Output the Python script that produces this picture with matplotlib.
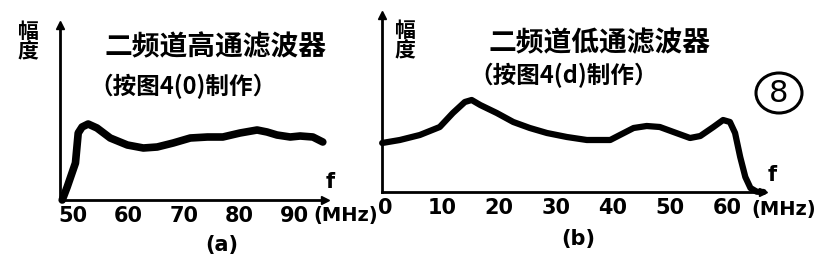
import matplotlib
matplotlib.use('Agg')
import matplotlib.pyplot as plt
from matplotlib.patches import Ellipse

W, H = 835, 260
CJK = ['Noto Sans CJK SC', 'DejaVu Sans']

# high-pass response (panel a), frequency in MHz, amplitude in arbitrary units
hp_freq = [48.0, 48.9, 50.4, 50.9, 51.6, 52.7, 54.3, 56.7, 59.8, 62.7, 65.2, 68.1,
           71.2, 74.3, 77.1, 80.2, 83.3, 85.1, 86.9, 89.3, 91.1, 93.4, 95.2]
hp_amp = [0, 13, 37, 67, 73, 76, 72, 62, 55, 52, 53, 57,
          62, 63, 63, 67, 70, 68, 65, 63, 64, 63, 58]
hp_ticks = [50, 60, 70, 80, 90]

# low-pass response (panel b)
lp_freq = [-0.5, 2.6, 6.1, 9.6, 11.9, 14.0, 15.2, 16.7, 19.6, 22.5, 25.4, 28.4,
           31.9, 35.4, 39.5, 41.2, 43.6, 45.9, 48.2, 50.6, 53.5, 55.3, 57.6, 59.3,
           60.5, 61.4, 62.3, 63.2, 64.1, 65.2, 66.4]
lp_amp = [49, 52, 57, 65, 79, 90, 92, 87, 79, 70, 64, 59,
          55, 52, 52, 57, 64, 66, 65, 60, 54, 56, 65, 72,
          70, 59, 35, 15, 4, 0.3, 0]
lp_ticks = [0, 10, 20, 30, 40, 50, 60]

fig = plt.figure(figsize=(W / 100, H / 100), dpi=100)
fig.patch.set_facecolor('white')


def px_axes(x0, x1, ytop, ybot):
    return fig.add_axes([x0 / W, (H - ybot) / H, (x1 - x0) / W, (ybot - ytop) / H])


def setup(ax, xlim, ylim, ticks):
    ax.set_xlim(*xlim)
    ax.set_ylim(*ylim)
    for s in ['top', 'right']:
        ax.spines[s].set_visible(False)
    for s in ['left', 'bottom']:
        ax.spines[s].set_linewidth(2.0)
    ax.set_yticks([])
    ax.set_xticks(ticks)
    ax.set_xticklabels([str(t) for t in ticks], fontsize=15, fontweight='bold',
                       family='DejaVu Sans')
    ax.tick_params(axis='x', length=0, pad=4)
    ax.patch.set_alpha(0)
    ax.plot([0], [1], marker='^', color='black', ms=6, transform=ax.transAxes, clip_on=False)
    ax.plot([1], [0], marker='>', color='black', ms=6, transform=ax.transAxes, clip_on=False)


axa = px_axes(60, 325, 25, 200)
setup(axa, (47.6, 95.6), (0, 175), hp_ticks)
axa.plot(hp_freq, hp_amp, color='black', lw=5.5, solid_capstyle='round',
         solid_joinstyle='round', clip_on=False)

axb = px_axes(382, 763, 15, 192)
setup(axb, (-0.53, 66.3), (0, 177), lp_ticks)
axb.plot(lp_freq, lp_amp, color='black', lw=4.5, solid_capstyle='round',
         solid_joinstyle='round', clip_on=False)

# overlay for text, pixel coordinates
ov = fig.add_axes([0, 0, 1, 1], zorder=-1)
ov.set_xlim(0, W)
ov.set_ylim(H, 0)
ov.axis('off')

def t(x, y, s, size, **kw):
    kw.setdefault('family', CJK)
    ov.text(x, y, s, fontsize=size, ha='center', va='center', **kw)

t(28, 42, '幅\n度', 15, fontweight='bold', linespacing=0.95)
t(405, 41, '幅\n度', 15, fontweight='bold', linespacing=0.95)

t(216, 47, '二频道高通滤波器', 20, fontweight='bold')
t(183, 86, '（按图4(0)制作）', 17, fontweight='bold')
t(599, 43, '二频道低通滤波器', 20, fontweight='bold')
t(564, 75, '（按图4(d)制作）', 17, fontweight='bold')

t(330, 182, 'f', 15, fontweight='bold', family='DejaVu Sans')
t(772, 175, 'f', 15, fontweight='bold', family='DejaVu Sans')
t(346, 215, '(MHz)', 14, fontweight='bold', family='DejaVu Sans')
t(784, 209, '(MHz)', 14, fontweight='bold', family='DejaVu Sans')

t(222, 245, '(a)', 15, fontweight='bold', family='DejaVu Sans')
t(578, 239, '(b)', 15, fontweight='bold', family='DejaVu Sans')

t(779, 93, '8', 22, family='DejaVu Sans')
ov.add_patch(Ellipse((779, 93), 46, 40, fill=False, lw=2.2, ec='black'))

fig.savefig('out.png', dpi=100, facecolor='white')
